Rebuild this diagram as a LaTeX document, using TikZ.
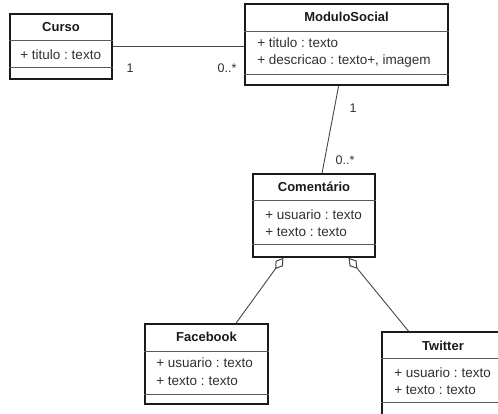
\documentclass[tikz,border=0pt]{standalone}
\usepackage{fontspec}
\setmainfont{Liberation Sans}
\frenchspacing
\usetikzlibrary{arrows.meta,positioning,calc}
\definecolor{Ink}{HTML}{1A1A1A}
\definecolor{Rule}{HTML}{5A5A5A}
\definecolor{Wire}{HTML}{474747}
\tikzset{
  klass/.style={draw=Ink,fill=white,line width=1.7pt,inner sep=0pt},
  ktitle/.style={font=\fontsize{13}{14}\selectfont\bfseries,text=Ink,inner sep=0pt},
  kattr/.style={font=\fontsize{13.5}{17.5}\selectfont,text=Ink!90,align=left,inner sep=0pt,anchor=north west},
  sep/.style={draw=Rule,line width=0.8pt},
  assoc/.style={draw=Wire,line width=0.9pt},
  aggr/.style={draw=Wire,line width=0.9pt,arrows={Diamond[open,length=14pt,width=9pt,line width=1pt]-}},
  mult/.style={font=\fontsize{12.5}{14}\selectfont,text=Ink!90,inner sep=0pt}
}
\begin{document}
\begin{tikzpicture}[x=1pt,y=1pt]
  \clip (0,0) rectangle (498,414);
  \fill[white] (0,0) rectangle (498,414);
  % classes
  \node[klass,minimum width=102pt,minimum height=65pt] (curso) at (61,367.5) {};
  \node[klass,minimum width=203pt,minimum height=81pt] (modulo) at (346.5,369.5) {};
  \node[klass,minimum width=122pt,minimum height=83pt] (coment) at (314,198.5) {};
  \node[klass,minimum width=123pt,minimum height=80pt] (face) at (206.5,50) {};
  \node[klass,minimum width=122pt,minimum height=83pt] (twit) at (443,40.5) {};
  % compartments
  \draw[sep] ($(curso.north west)+(0,-27)$) -- ($(curso.north east)+(0,-27)$);
  \draw[sep] ($(curso.south west)+(0,12)$) -- ($(curso.south east)+(0,12)$);
  \draw[sep] ($(modulo.north west)+(0,-28)$) -- ($(modulo.north east)+(0,-28)$);
  \draw[sep] ($(modulo.south west)+(0,11)$) -- ($(modulo.south east)+(0,11)$);
  \draw[sep] ($(coment.north west)+(0,-27)$) -- ($(coment.north east)+(0,-27)$);
  \draw[sep] ($(coment.south west)+(0,13)$) -- ($(coment.south east)+(0,13)$);
  \draw[sep] ($(face.north west)+(0,-28)$) -- ($(face.north east)+(0,-28)$);
  \draw[sep] ($(face.south west)+(0,10)$) -- ($(face.south east)+(0,10)$);
  \draw[sep] ($(twit.north west)+(0,-27)$) -- ($(twit.north east)+(0,-27)$);
  \draw[sep] ($(twit.south west)+(0,13)$) -- ($(twit.south east)+(0,13)$);
  % names
  \node[ktitle] (cursoname) at ($(curso.north)+(0,-14)$) {Curso};
  \node[ktitle] (moduloname) at ($(modulo.north)+(0,-14)$) {ModuloSocial};
  \node[ktitle] (comentname) at ($(coment.north)+(0,-14)$) {Comentário};
  \node[ktitle] (facename) at ($(face.north)+(0,-14)$) {Facebook};
  \node[ktitle] (twitname) at ($(twit.north)+(0,-15)$) {Twitter};
  % attributes
  \node[kattr] (cursoattr) at ($(curso.north west)+(11,-36)$) {+ titulo : texto};
  \node[kattr] (moduloattr) at ($(modulo.north west)+(13,-34)$) {+ titulo : texto\\+ descricao : texto+, imagem};
  \node[kattr] (comentattr) at ($(coment.north west)+(13,-36)$) {+ usuario : texto\\+ texto : texto};
  \node[kattr] (faceattr) at ($(face.north west)+(12,-34.5)$) {+ usuario : texto\\+ texto : texto};
  \node[kattr] (twitattr) at ($(twit.north west)+(13,-36)$) {+ usuario : texto\\+ texto : texto};
  % links
  \draw[assoc] (curso.east) -- (curso.east -| modulo.west);
  \draw[assoc] (modulo) -- (coment);
  \draw[aggr] (coment) -- (face);
  \draw[aggr] (coment) -- (twit);
  % multiplicities
  \node[mult] (m1) at (130,346) {1};
  \node[mult] (m2) at (227,346) {0..*};
  \node[mult] (m3) at (353,306) {1};
  \node[mult] (m4) at (345,254) {0..*};
\end{tikzpicture}
\end{document}
